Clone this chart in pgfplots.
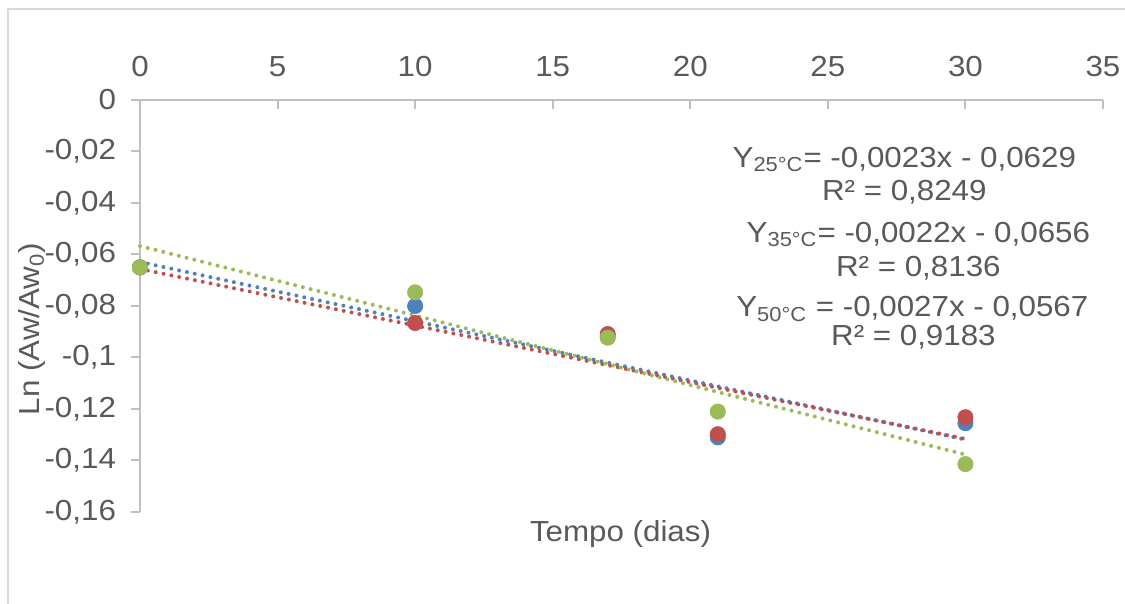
\documentclass[border=0pt]{standalone}
\usepackage{pgfplots}
\pgfplotsset{compat=1.18}
\usepackage{fontspec}
\setmainfont[FakeStretch=1.08]{Liberation Sans}
\definecolor{txt}{HTML}{595959}
\definecolor{axisgray}{HTML}{BFBFBF}
\definecolor{framegray}{HTML}{D9D9D9}
\definecolor{sblue}{HTML}{4F81BD}
\definecolor{sred}{HTML}{C0504D}
\definecolor{sgreen}{HTML}{9BBB59}
\newcommand{\chartfont}{\fontsize{14.5}{16}\selectfont}
\begin{document}
\begin{tikzpicture}
\path[use as bounding box] (-70pt,-46pt) rectangle (492.5pt,256pt);
\draw[framegray, line width=0.8pt] (-66pt,-46pt) -- (-66pt,251.5pt) -- (492.5pt,251.5pt);
\begin{axis}[
  at={(0,0)}, anchor=south west,
  scale only axis, width=481.5pt, height=206pt,
  xmin=0, xmax=35, ymin=-0.16, ymax=0,
  axis x line=top, axis y line=left,
  axis line style={axisgray, line width=1pt, -},
  xtick={0,5,...,35}, ytick={-0.16,-0.14,...,0},
  tick style={axisgray, line width=1pt},
  major tick length=4.5pt,
  tick align=outside,
  xtick style={yshift=-4.5pt},
  ticklabel style={font=\chartfont, text=txt},
  yticklabel style={xshift=-4pt},
  xticklabel style={yshift=3.5pt},
  /pgf/number format/.cd, use comma, fixed, precision=2, assume math mode=true,
  /pgfplots/.cd,
  xlabel={Tempo (dias)},
  ylabel={Ln (Aw/Aw\textsubscript{0})},
  every axis x label/.style={at={(axis description cs:0.499,-0.053)}, anchor=center, font=\chartfont, text=txt},
  every axis y label/.style={at={(axis description cs:-0.112,0.444)}, rotate=90, anchor=center, font=\chartfont, text=txt},
  clip=false,
]
% data points
\addplot[only marks, mark=*, mark size=3.8pt, color=sblue] coordinates {(0,-0.065) (10,-0.080) (17,-0.092) (21,-0.131) (30,-0.1255)};
\addplot[only marks, mark=*, mark size=3.8pt, color=sred] coordinates {(0,-0.065) (10,-0.0866) (17,-0.0909) (21,-0.1298) (30,-0.1232)};
\addplot[only marks, mark=*, mark size=3.8pt, color=sgreen] coordinates {(0,-0.065) (10,-0.0747) (17,-0.0923) (21,-0.121) (30,-0.1414)};
% trendlines
\addplot[sblue, line width=2pt, line cap=round, dash pattern=on 0pt off 4pt] coordinates {(0,-0.0629) (30,-0.1319)};
\addplot[sred, line width=2pt, line cap=round, dash pattern=on 0pt off 4pt] coordinates {(0,-0.0656) (30,-0.1316)};
\addplot[sgreen, line width=2pt, line cap=round, dash pattern=on 0pt off 4pt] coordinates {(0,-0.0567) (30,-0.1377)};
% equations
\begin{scope}[every node/.style={font=\chartfont, text=txt, anchor=center, inner sep=0pt}]
\node at (axis cs:27.78,-0.0232) {Y\textsubscript{25°C}= -0,0023x - 0,0629};
\node at (axis cs:27.78,-0.0357) {R² = 0,8249};
\node at (axis cs:28.29,-0.0522) {Y\textsubscript{35°C}= -0,0022x - 0,0656};
\node at (axis cs:28.29,-0.0652) {R² = 0,8136};
\node at (axis cs:28.07,-0.0812) {Y\textsubscript{50°C} = -0,0027x - 0,0567};
\node at (axis cs:28.11,-0.0920) {R² = 0,9183};
\end{scope}
\end{axis}
\end{tikzpicture}
\end{document}
